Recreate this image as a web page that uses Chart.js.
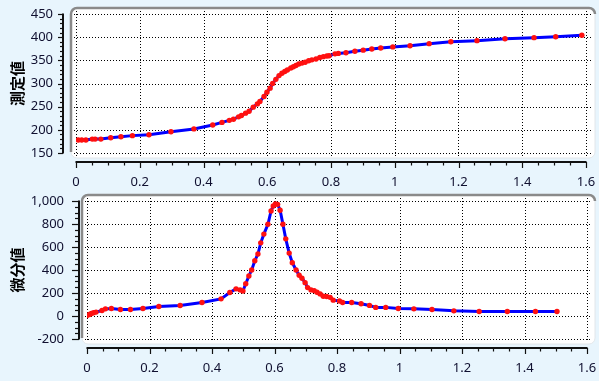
<!DOCTYPE html>
<html><head><meta charset="utf-8">
<script src="https://cdn.jsdelivr.net/npm/chart.js@4/dist/chart.umd.min.js"></script>
<style>
html,body{margin:0;padding:0;background:#e8f5fd;width:599px;height:381px;overflow:hidden}
.c{position:absolute;left:0}
</style></head><body>
<canvas id="c1" class="c" style="top:0" width="599" height="190"></canvas>
<canvas id="c2" class="c" style="top:190px" width="599" height="191"></canvas>
<script>
// ---- data ----
const topTitle = '測定値';
const diffTitle = '微分値';
const xTicks = [0, 0.2, 0.4, 0.6, 0.8, 1, 1.2, 1.4, 1.6];
const topYTicks = [150, 200, 250, 300, 350, 400, 450];
const diffYTicks = [-200, 0, 200, 400, 600, 800, 1000];

const topX = [0.007,0.018,0.031,0.051,0.06,0.078,0.109,0.141,0.177,0.229,0.298,0.370,0.429,0.458,0.481,0.494,0.510,0.519,0.532,0.543,0.556,0.569,0.577,0.590,0.599,0.609,0.617,0.627,0.637,0.646,0.655,0.663,0.674,0.682,0.690,0.699,0.709,0.719,0.730,0.740,0.753,0.765,0.776,0.787,0.794,0.8125,0.823,0.847,0.875,0.901,0.928,0.956,0.994,1.048,1.108,1.176,1.258,1.346,1.437,1.505,1.587];
const topY = [178,178,178,180,180,180,183,185,187.5,189.5,196,202,210.5,216,220.5,223,228,231,236,240,249,256,261,272,281,290,300,309,317,322,326,329,333.5,336,339,342,344,346,349,351,353,356,358,359.5,360,364,365,366.5,369.5,372,374.5,376.5,379,381.5,386,390,392.5,396.5,399,401,404];

const diffX = [0,0.008,0.014,0.021,0.029,0.048,0.059,0.078,0.107,0.139,0.179,0.230,0.298,0.368,0.429,0.457,0.477,0.490,0.499,0.508,0.518,0.527,0.537,0.547,0.556,0.566,0.579,0.589,0.596,0.603,0.610,0.618,0.627,0.636,0.647,0.657,0.669,0.679,0.688,0.698,0.706,0.717,0.727,0.736,0.746,0.756,0.767,0.778,0.788,0.808,0.818,0.847,0.877,0.904,0.924,0.956,0.996,1.046,1.104,1.174,1.255,1.345,1.435,1.504];
const diffY = [4,13,22,28,34,48,62,65,56,56,65,82,91,117,149,204,236,227,218,281,348,400,481,539,636,712,798,913,957,974,971,920,798,671,547,463,400,354,328,290,247,227,221,207,192,172,169,162,138,130,117,117,106,92,75,75,65,62,56,45,39,39,39,39];

// ---- drawing ----
const tickFont = {family: "'Noto Sans', sans-serif", size: 13};
const tickColor = '#101030';
const titleFont = {family: "'Noto Sans CJK JP', sans-serif", size: 15, weight: 'bold'};

const frame = {
  id: 'frame',
  beforeDraw(chart, args, o) {
    const ctx = chart.ctx, a = chart.chartArea;
    const L = a.left - o.pad[0], T = a.top - o.pad[1], R = a.right + o.pad[2], B = a.bottom + o.pad[3], r = 6;
    ctx.save();
    ctx.beginPath();
    ctx.moveTo(L + r, T); ctx.lineTo(R - r, T); ctx.arcTo(R, T, R, T + r, r);
    ctx.lineTo(R, B - r); ctx.arcTo(R, B, R - r, B, r);
    ctx.lineTo(L + r, B); ctx.arcTo(L, B, L, B - r, r);
    ctx.lineTo(L, T + r); ctx.arcTo(L, T, L + r, T, r); ctx.closePath();
    ctx.fillStyle = '#fff'; ctx.fill();
    ctx.strokeStyle = '#e2e6ea'; ctx.lineWidth = 1; ctx.stroke();
    ctx.beginPath();
    ctx.moveTo(L, B - r); ctx.lineTo(L, T + r); ctx.arcTo(L, T, L + r, T, r);
    ctx.lineTo(R - r, T); ctx.arcTo(R, T, R, T + r, r);
    ctx.strokeStyle = '#8a8a8a'; ctx.lineWidth = 2.5; ctx.stroke();

    const xs = chart.scales.x, ys = chart.scales.y;
    ctx.strokeStyle = '#000'; ctx.lineWidth = 1; ctx.setLineDash([1, 2]);
    xs.ticks.forEach(t => {
      const p = Math.round(xs.getPixelForValue(t.value)) + 0.5;
      ctx.beginPath(); ctx.moveTo(p, T + 3); ctx.lineTo(p, B - 2); ctx.stroke();
    });
    ys.ticks.forEach(t => {
      const p = Math.round(ys.getPixelForValue(t.value)) + 0.5;
      ctx.beginPath(); ctx.moveTo(L + 3, p); ctx.lineTo(R - 3, p); ctx.stroke();
    });
    ctx.setLineDash([]);

    // y axis
    ctx.strokeStyle = '#111';
    const ax = a.left - o.yGap;
    ctx.lineWidth = 2;
    ctx.beginPath(); ctx.moveTo(ax, ys.getPixelForValue(ys.max) - 0.5); ctx.lineTo(ax, ys.getPixelForValue(ys.min) + 0.5); ctx.stroke();
    ctx.lineWidth = 1.2;
    for (let v = ys.min; v <= ys.max + 1e-9; v += o.yMinor) {
      const p = Math.round(ys.getPixelForValue(v)) + 0.5;
      const major = Math.abs((v - ys.min) / o.yMajor - Math.round((v - ys.min) / o.yMajor)) < 1e-6;
      ctx.beginPath(); ctx.moveTo(ax, p); ctx.lineTo(ax - (major ? o.yMaj : o.yMin), p); ctx.stroke();
    }
    // x axis
    const ay = a.bottom + o.xGap;
    ctx.lineWidth = 2;
    ctx.beginPath(); ctx.moveTo(xs.getPixelForValue(xs.min) - 0.5, ay); ctx.lineTo(xs.getPixelForValue(xs.max) + 0.5, ay); ctx.stroke();
    ctx.lineWidth = 1.2;
    for (let i = 0; xs.min + i * o.xMinor <= xs.max + 1e-9; i++) {
      const v = xs.min + i * o.xMinor;
      const p = Math.round(xs.getPixelForValue(v)) + 0.5;
      const major = i % Math.round(o.xMajor / o.xMinor) === 0;
      ctx.beginPath(); ctx.moveTo(p, ay); ctx.lineTo(p, ay + (major ? o.xMaj : o.xMin)); ctx.stroke();
    }
    ctx.restore();
  }
};

function hiddenGrid(len) {
  return {display: true, drawOnChartArea: false, drawTicks: true, tickLength: len, color: 'rgba(0,0,0,0)'};
}

function makeChart(id, xs, ys, yTicks, yMin, yMax, title, geo, fmtY) {
  return new Chart(document.getElementById(id), {
    type: 'line',
    data: {
      datasets: [{
        data: xs.map((x, i) => ({x: x, y: ys[i]})),
        borderColor: '#0000ff', borderWidth: 3, tension: 0,
        pointRadius: 2.7, pointBackgroundColor: '#ff1010', pointBorderWidth: 0,
        pointStyle: 'circle'
      }]
    },
    options: {
      responsive: false, animation: false, devicePixelRatio: 1,
      layout: {padding: {left: 0, top: geo.top, right: geo.right, bottom: 0}},
      plugins: {legend: {display: false}, tooltip: {enabled: false}, frame: geo.frame},
      scales: {
        x: {
          type: 'linear', min: 0, max: 1.6,
          afterBuildTicks: s => { s.ticks = xTicks.map(v => ({value: v})); },
          afterFit: s => { s.height = geo.xH; },
          grid: hiddenGrid(geo.xPad), border: {display: false},
          ticks: {padding: 0, font: tickFont, color: tickColor, autoSkip: false, maxRotation: 0,
                  callback: v => String(+Number(v).toFixed(2))}
        },
        y: {
          type: 'linear', min: yMin, max: yMax,
          afterBuildTicks: s => { s.ticks = yTicks.map(v => ({value: v})); },
          afterFit: s => { s.width = geo.yW; },
          grid: hiddenGrid(geo.yPad), border: {display: false},
          ticks: {padding: 0, font: tickFont, color: tickColor, autoSkip: false, callback: fmtY},
          title: {display: true, text: title, font: titleFont, color: '#000', padding: {top: 8, bottom: 0}}
        }
      }
    },
    plugins: [frame]
  });
}

makeChart('c1', topX, topY, topYTicks, 150, 450, topTitle,
  {top: 14, right: 13, xH: 37, yW: 76, xPad: 21, yPad: 23,
   frame: {pad: [5, 6, 9, 5], yGap: 13, xGap: 9, yMinor: 10, yMajor: 50, yMaj: 5, yMin: 3, xMinor: 0.05, xMajor: 0.2, xMaj: 6, xMin: 3.5}},
  v => String(v));

makeChart('c2', diffX, diffY, diffYTicks, -200, 1000, diffTitle,
  {top: 11, right: 12, xH: 42, yW: 87, xPad: 21, yPad: 23,
   frame: {pad: [5, 6, 8, 5], yGap: 8, xGap: 9, yMinor: 50, yMajor: 200, yMaj: 7, yMin: 4, xMinor: 0.05, xMajor: 0.2, xMaj: 6, xMin: 3.5}},
  v => Number(v).toLocaleString('en-US'));
</script>
</body></html>
